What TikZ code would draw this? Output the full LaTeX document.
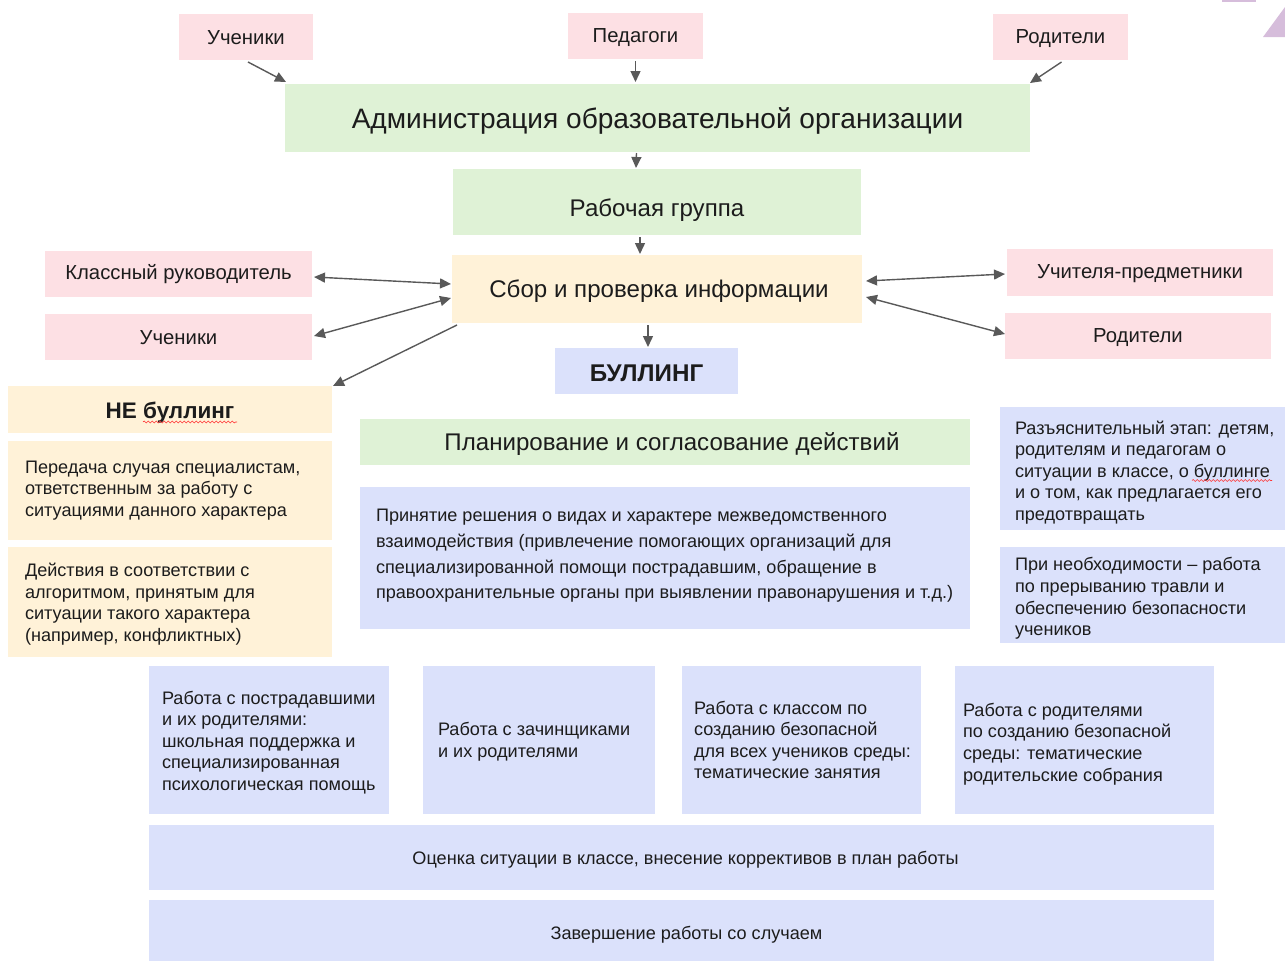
\documentclass[tikz,border=0pt]{standalone}
\usepackage{fontspec}
\setmainfont{Liberation Sans}
\usetikzlibrary{arrows.meta,calc,decorations.pathmorphing}
\definecolor{cpink}{HTML}{FDE0E4}
\definecolor{cgreen}{HTML}{DFF2D6}
\definecolor{cyellow}{HTML}{FFF2D8}
\definecolor{cblue}{HTML}{DBE1FB}
\definecolor{cpurple}{HTML}{D6BDDB}
\definecolor{carrow}{HTML}{595959}
\definecolor{ctext}{HTML}{1C1C1C}
\tikzset{
  box/.style={draw=none, inner sep=0pt, outer sep=0pt},
  txt/.style={inner sep=0pt, outer sep=0pt, text=ctext, align=left, anchor=west},
  ctxt/.style={inner sep=0pt, outer sep=0pt, text=ctext},
  lab/.style={font=\fontsize{20.3}{24}\selectfont},
  big/.style={font=\fontsize{28.1}{32}\selectfont},
  mid/.style={font=\fontsize{24.1}{28}\selectfont},
  body/.style={font=\fontsize{18.1}{21.6}\selectfont},
  prbody/.style={font=\fontsize{18.1}{25.7}\selectfont},
  bulfont/.style={font=\fontsize{24.2}{28}\selectfont\bfseries},
  nefont/.style={font=\fontsize{22.5}{26}\selectfont\bfseries},
  arr/.style={draw=carrow, line width=1.4pt, -{Triangle[length=11pt,width=10pt]}},
  darr/.style={draw=carrow, line width=1.4pt, {Triangle[length=11pt,width=10pt]}-{Triangle[length=11pt,width=10pt]}},
  squig/.style={draw=red!80, line width=0.6pt, decorate, decoration={snake, amplitude=1pt, segment length=4pt}}
}
% #1 name, #2 x1, #3 y1, #4 x2, #5 y2, #6 fill, #7 style, #8 dy, #9 text (centred)
\newcommand{\cbox}[9]{%
  \node[box, fill=#6, minimum width={#4-#2}, minimum height={#5-#3}] (#1) at ({(#2+#4)/2},{(#3+#5)/2}) {};
  \node[ctxt, #7] (#1t) at ($(#1.center)+(0,#8)$) {#9};}
% #1 name, #2 x1, #3 y1, #4 x2, #5 y2, #6 fill, #7 pad, #8 dy, #9 text (left)
\newcommand{\lbox}[9]{%
  \node[box, fill=#6, minimum width={#4-#2}, minimum height={#5-#3}] (#1) at ({(#2+#4)/2},{(#3+#5)/2}) {};
  \node[txt, body] (#1t) at ($(#1.west)+(#7,#8)$) {#9};}
\begin{document}
\begin{tikzpicture}[x=1pt, y=-1pt]
\useasboundingbox (0,0) rectangle (1285,961);
% decorative fragments
\fill[cpurple] (1222,0) rectangle (1256,2);
\fill[cpurple] (1263,37) -- (1285,37) -- (1285,7) -- cycle;

\cbox{u1}{179}{14}{313}{60}{cpink}{lab}{1}{Ученики}
\cbox{ped}{568}{13}{703}{59}{cpink}{lab}{2}{Педагоги}
\cbox{r1}{993}{14}{1128}{60}{cpink}{lab}{2}{Родители}
\cbox{adm}{285}{84}{1030}{152}{cgreen}{big}{3}{Администрация образовательной организации}
\cbox{rab}{453}{169}{861}{235}{cgreen}{mid}{8}{Рабочая группа}
\cbox{sbor}{452}{255}{862}{323}{cyellow}{mid, xshift=2}{2}{Сбор и проверка информации}
\cbox{kl}{45}{251}{312}{297}{cpink}{lab}{0}{Классный руководитель}
\cbox{u2}{45}{314}{312}{360}{cpink}{lab}{1}{Ученики}
\cbox{upr}{1007}{249}{1273}{296}{cpink}{lab}{1}{Учителя-предметники}
\cbox{r2}{1005}{313}{1271}{359}{cpink}{lab}{2}{Родители}
\cbox{bul}{555}{348}{738}{394}{cblue}{bulfont}{2}{БУЛЛИНГ}
\cbox{ne}{8}{386}{332}{433}{cyellow}{nefont}{3}{НЕ буллинг}
\cbox{plan}{360}{419}{970}{465}{cgreen}{mid, xshift=7}{2}{Планирование и согласование действий}

\lbox{ne1}{8}{441}{332}{540}{cyellow}{17}{0}{Передача случая специалистам,\\ответственным за работу с\\ситуациями данного характера}
\lbox{ne2}{8}{547}{332}{657}{cyellow}{17}{2}{Действия в соответствии с\\алгоритмом, принятым для\\ситуации такого характера\\(например, конфликтных)}
\node[box, fill=cblue, minimum width=610, minimum height=142] (pr) at (665,558) {};
\node[txt, prbody] (prt) at ($(pr.west)+(16,-2)$) {Принятие решения о видах и характере межведомственного\\взаимодействия (привлечение помогающих организаций для\\специализированной помощи пострадавшим, обращение в\\правоохранительные органы при выявлении правонарушения и т.д.)};
\lbox{ra}{1000}{407}{1285}{530}{cblue}{15}{4}{Разъяснительный этап: детям,\\родителям и педагогам о\\ситуации в классе, о буллинге\\и о том, как предлагается его\\предотвращать}
\lbox{pn}{1000}{547}{1285}{643}{cblue}{15}{3.5}{При необходимости – работа\\по прерыванию травли и\\обеспечению безопасности\\учеников}
\lbox{w1}{149}{666}{389}{814}{cblue}{13}{2.5}{Работа с пострадавшими\\и их родителями:\\школьная поддержка и\\специализированная\\психологическая помощь}
\lbox{w2}{423}{666}{655}{814}{cblue}{15}{2}{Работа с зачинщиками\\и их родителями}
\lbox{w3}{682}{666}{921}{814}{cblue}{12}{0}{Работа с классом по\\созданию безопасной\\для всех учеников среды:\\тематические занятия}
\lbox{w4}{955}{666}{1214}{814}{cblue}{8}{4}{Работа с родителями\\по созданию безопасной\\среды: тематические\\родительские собрания}
\cbox{oc}{149}{825}{1214}{890}{cblue}{body, xshift=4}{2}{Оценка ситуации в классе, внесение коррективов в план работы}
\cbox{zv}{149}{900}{1214}{961}{cblue}{body, xshift=5}{4}{Завершение работы со случаем}

% spell-check squiggles
\draw[squig] ($(ne.center)+(-27,12.5)$) -- ($(ne.center)+(67,12.5)$);
\draw[squig] ($(ra.west)+(192,12)$) -- ($(ra.west)+(272,12)$);

% connectors
\draw[arr] ($(u1.south)+(2,2)$) -- ($(adm.north west)+(1,-2)$);
\draw[arr] ($(ped.south)+(0,2)$) -- ($(ped.south |- adm.north)+(0,-2)$);
\draw[arr] ($(r1.south)+(1,2)$) -- ($(adm.north east)+(0,-1)$);
\draw[arr] ($(adm.south)+(-21,1)$) -- ($(rab.north)+(-21,-1)$);
\draw[arr] ($(rab.south)+(-17,2)$) -- ($(sbor.north)+(-17,-1)$);
\draw[arr] ($(bul.north |- sbor.south)+(1.5,2)$) -- ($(bul.north)+(1.5,-1)$);
\draw[darr] ($(kl.east)+(2,3)$) -- ($(sbor.west)+(-1,-5)$);
\draw[darr] ($(u2.east)+(2,-1)$) -- ($(sbor.west)+(-1,9)$);
\draw[arr] ($(sbor.south west)+(5,2)$) -- ($(ne.north east)+(1,0)$);
\draw[darr] ($(sbor.east)+(4,-8)$) -- ($(upr.west)+(-2,1.5)$);
\draw[darr] ($(sbor.east)+(4,8)$) -- ($(r2.west)+(0,-2)$);
\end{tikzpicture}
\end{document}
